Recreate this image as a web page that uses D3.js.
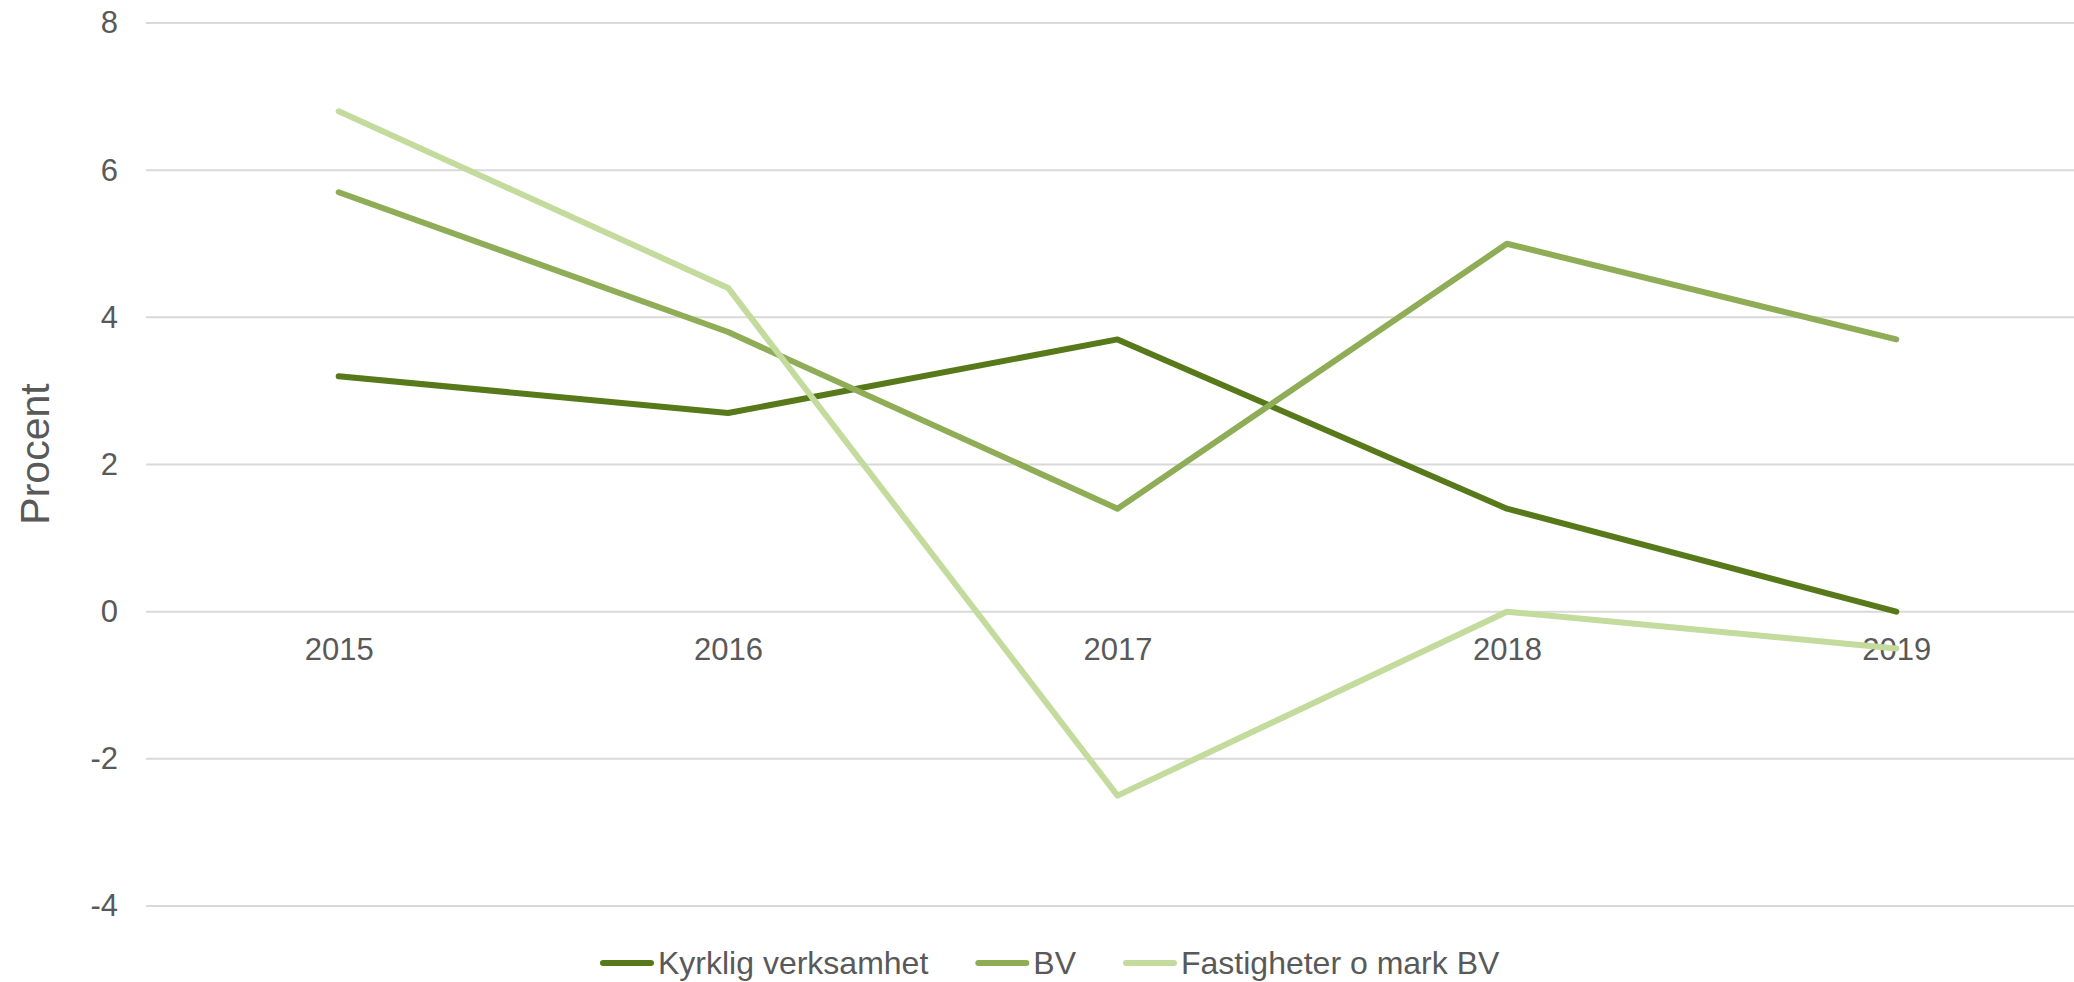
<!DOCTYPE html>
<html>
<head>
<meta charset="utf-8">
<script src="https://cdn.jsdelivr.net/npm/d3@7"></script>
<style>
  body { margin: 0; background: #fff; }
  svg { display: block; font-family: "Liberation Sans", Arial, sans-serif; }
</style>
</head>
<body>
<div id="chart"></div>
<script>
// chart data
var years = ["2015", "2016", "2017", "2018", "2019"];
var kyrklig = [3.2, 2.7, 3.7, 1.4, 0.0];
var bv = [5.7, 3.8, 1.4, 5.0, 3.7];
var fastigheter = [6.8, 4.4, -2.5, 0.0, -0.5];
var seriesNames = ["Kyrklig verksamhet", "BV", "Fastigheter o mark BV"];
var yTicks = [-4, -2, 0, 2, 4, 6, 8];

var colors = ["#57791a", "#8fad57", "#c3db9d"];
var allSeries = [kyrklig, bv, fastigheter];

var svgWidth = 2074;
var svgHeight = 982;

var plot = { left: 146, right: 2091, top: 23, bottom: 906 };

var svg = d3.select("#chart")
  .append("svg")
  .attr("width", svgWidth)
  .attr("height", svgHeight);

var xScale = d3.scalePoint()
  .domain(years)
  .range([plot.left - 2, plot.right])
  .padding(0.5);

var yScale = d3.scaleLinear()
  .domain([-4, 8])
  .range([plot.bottom, plot.top]);

// gridlines
svg.append("g")
  .selectAll("line")
  .data(yTicks)
  .enter()
  .append("line")
  .attr("x1", plot.left)
  .attr("x2", plot.right)
  .attr("y1", d => yScale(d))
  .attr("y2", d => yScale(d))
  .attr("stroke", "#d9d9d9")
  .attr("stroke-width", 2);

// y axis labels (plain hyphen for negatives, like the original)
var yAxis = svg.append("g")
  .attr("transform", `translate(${plot.left}, 0)`)
  .call(d3.axisLeft(yScale).tickValues(yTicks).tickFormat(d => String(d)).tickSize(0).tickPadding(28));
yAxis.select(".domain").remove();
yAxis.selectAll("text")
  .attr("fill", "#595959")
  .style("font-size", "31px")
  .style("font-family", "Liberation Sans, Arial, sans-serif");

// x axis labels sit under the zero line
var xAxis = svg.append("g")
  .attr("transform", `translate(0, ${yScale(0)})`)
  .call(d3.axisBottom(xScale).tickSize(0).tickPadding(26));
xAxis.select(".domain").remove();
xAxis.selectAll("text")
  .attr("fill", "#595959")
  .style("font-size", "31px")
  .style("font-family", "Liberation Sans, Arial, sans-serif");

// y axis title
svg.append("text")
  .attr("transform", "translate(49, 454) rotate(-90)")
  .attr("text-anchor", "middle")
  .attr("fill", "#595959")
  .style("font-size", "41px")
  .text("Procent");

// lines
var line = d3.line()
  .x((d, i) => xScale(years[i]))
  .y(d => yScale(d));

svg.append("g")
  .selectAll("path")
  .data(allSeries)
  .enter()
  .append("path")
  .attr("d", d => line(d))
  .attr("fill", "none")
  .attr("stroke", (d, i) => colors[i])
  .attr("stroke-width", 6)
  .attr("stroke-linecap", "round")
  .attr("stroke-linejoin", "round");

// legend
var legend = svg.append("g");
var lx = 600;
var ly = 963;
seriesNames.forEach(function (name, i) {
  legend.append("line")
    .attr("x1", lx + 3)
    .attr("x2", lx + 51)
    .attr("y1", ly)
    .attr("y2", ly)
    .attr("stroke", colors[i])
    .attr("stroke-width", 6)
    .attr("stroke-linecap", "round");
  var t = legend.append("text")
    .attr("x", lx + 58)
    .attr("y", ly + 11)
    .attr("fill", "#595959")
    .style("font-size", "32px")
    .text(name);
  lx = lx + 58 + t.node().getComputedTextLength() + 47;
});
</script>
</body>
</html>
